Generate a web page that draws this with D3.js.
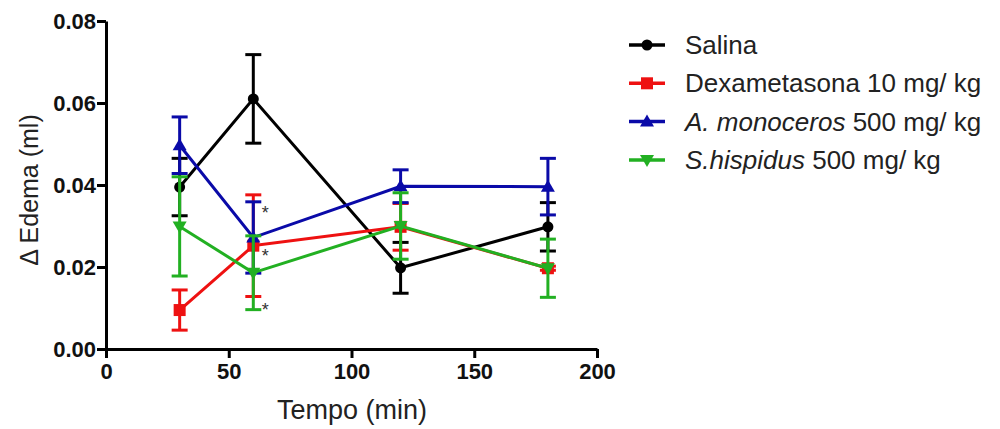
<!DOCTYPE html>
<html>
<head>
<meta charset="utf-8">
<script src="https://cdn.jsdelivr.net/npm/d3@7"></script>
<style>
  body { margin: 0; background: #fff; }
  text { font-family: "Liberation Sans", Arial, sans-serif; }
</style>
</head>
<body>
<script>
// data
var times = [30, 60, 120, 180];
var salina = [0.0395, 0.061, 0.0198, 0.0298];
var salinaErr = [0.007, 0.0108, 0.0062, 0.0059];
var dexa = [0.0095, 0.0252, 0.0298, 0.0197];
var dexaErr = [0.0049, 0.0124, 0.0057, 0.0005];
var mono = [0.0497, 0.0272, 0.0397, 0.0396];
var monoErr = [0.0069, 0.0087, 0.004, 0.0069];
var hisp = [0.0299, 0.0186, 0.0300, 0.0197];
var hispErr = [0.0121, 0.009, 0.0081, 0.0071];
var yTicks = [0, 0.02, 0.04, 0.06, 0.08];
var xTicks = [0, 50, 100, 150, 200];
// asterisks at 60 min
var starX = [60, 60, 60];
var starY = [0.0342, 0.0237, 0.0105];

var series = [
	{name: "Salina", italic: "", rest: "Salina", vals: salina, err: salinaErr, color: "#000000", shape: "circle"},
	{name: "Dexametasona", italic: "", rest: "Dexametasona 10 mg/ kg", vals: dexa, err: dexaErr, color: "#ee1111", shape: "square"},
	{name: "mono", italic: "A. monoceros", rest: " 500 mg/ kg", vals: mono, err: monoErr, color: "#0a0aa8", shape: "up"},
	{name: "hisp", italic: "S.hispidus", rest: " 500 mg/ kg", vals: hisp, err: hispErr, color: "#22b022", shape: "down"}
];

var width = 1000;
var height = 429;

var svg = d3.select("body")
	.append("svg")
	.attr("width", width)
	.attr("height", height);

var x = d3.scaleLinear().domain([0, 200]).range([106, 597]);
var y = d3.scaleLinear().domain([0, 0.08]).range([349, 21]);

// axes
var yAxis = svg.append("g")
	.attr("transform", "translate(106,0)")
	.call(d3.axisLeft(y).tickValues(yTicks).tickSize(9).tickSizeOuter(0).tickFormat(d3.format(".2f")));
var xAxis = svg.append("g")
	.attr("transform", "translate(0,349)")
	.call(d3.axisBottom(x).tickValues(xTicks).tickSize(9).tickSizeOuter(0));

[yAxis, xAxis].forEach(function(ax){
	ax.select(".domain").attr("stroke", "#000").attr("stroke-width", 3);
	ax.selectAll(".tick line").attr("stroke", "#000").attr("stroke-width", 3);
	ax.selectAll(".tick text")
		.attr("fill", "#111")
		.attr("font-size", "22px")
		.attr("font-weight", "bold")
		.attr("font-family", "'Liberation Sans', Arial, sans-serif");
});
yAxis.selectAll(".tick text").attr("x", -10);
xAxis.selectAll(".tick text").attr("y", 14);

// axis titles
svg.append("text")
	.attr("x", 352)
	.attr("y", 419)
	.attr("text-anchor", "middle")
	.attr("font-size", "27px")
	.attr("fill", "#222")
	.text("Tempo (min)");

svg.append("text")
	.attr("transform", "translate(38,190) rotate(-90)")
	.attr("text-anchor", "middle")
	.attr("font-size", "25px")
	.attr("fill", "#222")
	.text("\u0394 Edema (ml)");

function marker(g, shape, color, cx, cy){
	if (shape == "circle") {
		g.append("circle").attr("cx", cx).attr("cy", cy).attr("r", 5.5).attr("fill", color);
	} else if (shape == "square") {
		g.append("rect").attr("x", cx - 6).attr("y", cy - 6).attr("width", 12).attr("height", 12).attr("fill", color);
	} else if (shape == "up") {
		g.append("path").attr("d", "M" + cx + "," + (cy - 7) + "L" + (cx + 7) + "," + (cy + 5) + "L" + (cx - 7) + "," + (cy + 5) + "Z").attr("fill", color);
	} else {
		g.append("path").attr("d", "M" + cx + "," + (cy + 7) + "L" + (cx + 7) + "," + (cy - 5) + "L" + (cx - 7) + "," + (cy - 5) + "Z").attr("fill", color);
	}
}

var line = d3.line()
	.x(function(d){ return x(d.t); })
	.y(function(d){ return y(d.v); });

series.forEach(function(s){
	var pts = times.map(function(t, i){ return {t: t, v: s.vals[i], e: s.err[i]}; });
	var g = svg.append("g");

	// error bars
	pts.forEach(function(p){
		g.append("line")
			.attr("x1", x(p.t)).attr("x2", x(p.t))
			.attr("y1", y(p.v - p.e)).attr("y2", y(p.v + p.e))
			.attr("stroke", s.color).attr("stroke-width", 3);
		[p.v - p.e, p.v + p.e].forEach(function(v){
			g.append("line")
				.attr("x1", x(p.t) - 8).attr("x2", x(p.t) + 8)
				.attr("y1", y(v)).attr("y2", y(v))
				.attr("stroke", s.color).attr("stroke-width", 3);
		});
	});

	g.append("path")
		.datum(pts)
		.attr("d", line)
		.attr("fill", "none")
		.attr("stroke", s.color)
		.attr("stroke-width", 3);

	pts.forEach(function(p){ marker(g, s.shape, s.color, x(p.t), y(p.v)); });
});

// significance marks
svg.selectAll(".star")
	.data(starX.map(function(d, i){ return {t: d, v: starY[i]}; }))
	.enter()
	.append("text")
	.attr("class", "star")
	.attr("x", function(d){ return x(d.t) + 12; })
	.attr("y", function(d){ return y(d.v) + 10; })
	.attr("text-anchor", "middle")
	.attr("font-size", "18px")
	.attr("fill", "#333")
	.text("*");

// legend
var legend = svg.append("g");
series.forEach(function(s, i){
	var ly = 45 + i * 38.3;
	legend.append("line")
		.attr("x1", 629).attr("x2", 665)
		.attr("y1", ly).attr("y2", ly)
		.attr("stroke", s.color).attr("stroke-width", 3.5);
	marker(legend, s.shape, s.color, 647, ly);
	var t = legend.append("text")
		.attr("x", 685)
		.attr("y", ly + 9)
		.attr("font-size", "26px")
		.attr("fill", "#222");
	if (s.italic) t.append("tspan").attr("font-style", "italic").text(s.italic);
	t.append("tspan").text(s.rest);
});
</script>
</body>
</html>
